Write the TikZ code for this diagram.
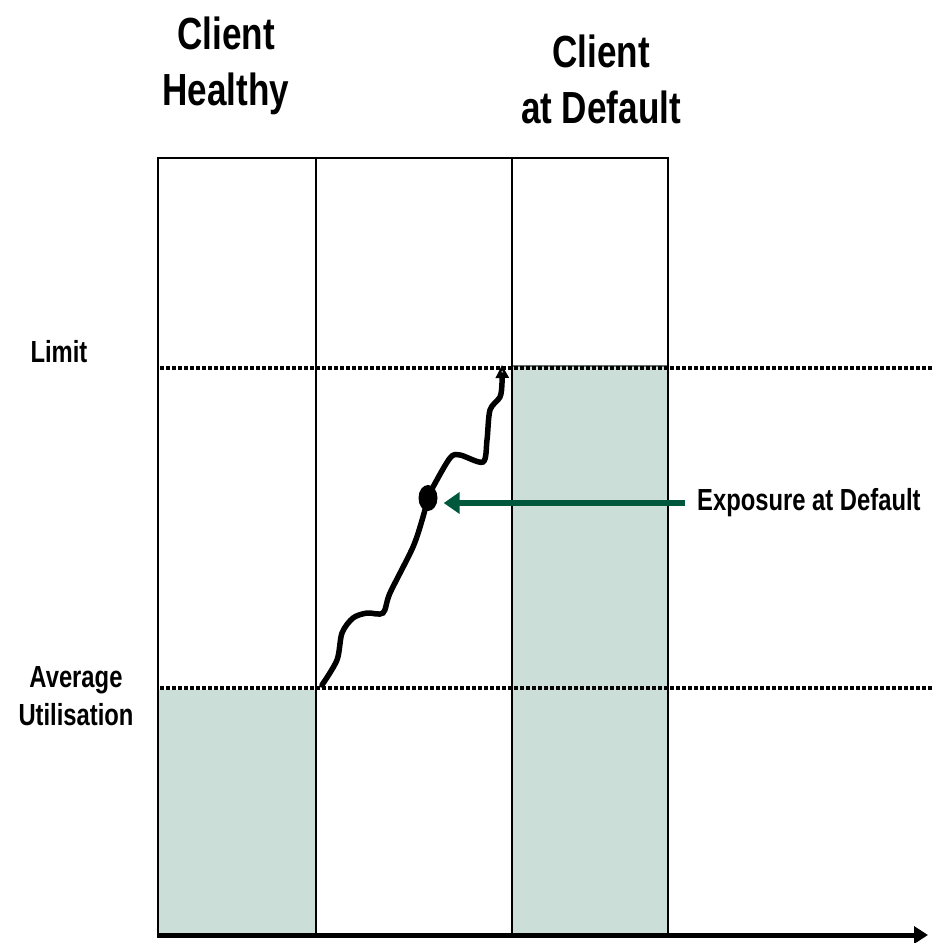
\documentclass[tikz,border=0pt]{standalone}
\usepackage{fontspec}
\setmainfont{Liberation Sans}[FakeStretch=0.78]
\usetikzlibrary{arrows.meta,shapes.geometric}
\definecolor{eadgreen}{RGB}{0,88,60}
\definecolor{eadfill}{RGB}{204,222,216}
\tikzset{
	headlabel/.style={align=center, font=\bfseries\fontsize{45}{56}\selectfont},
	levellabel/.style={align=center, font=\bfseries\fontsize{30.5}{38}\selectfont},
	limitline/.style={line width=4.5pt, dash pattern=on 4pt off 2pt},
	column/.style={line width=2.5pt},
}
\begin{document}
\begin{tikzpicture}[x=1pt,y=-1pt]
	\useasboundingbox (0,0) rectangle (932,943);
	\fill[eadfill] (158,690) rectangle (316,935);
	\draw[eadfill!50!black, fill=eadfill, line width=1.5pt] (512,366) rectangle (668,935);
	\draw[column] (158,935) -- (158,158) -- (668,158) -- (668,935);
	\draw[column] (316,158) -- (316,935);
	\draw[column] (512,158) -- (512,935);
	\draw[limitline] (160,368) -- (932,368);
	\draw[limitline] (160,688) -- (932,688);
	\draw[line width=5pt, -{Triangle[length=14pt,width=17pt]}] (157,935) -- (928,935);
	\node (CH)	at (226,66)	[headlabel]	{Client\\Healthy};
	\node (CD)	at (601,79)	[headlabel]	{Client\\at Default};
	\node (LIM)	at (59,352)	[levellabel]	{Limit};
	\node (AU)	at (76,696)	[levellabel]	{Average\\Utilisation};
	\node (EXP)	at (685,503)	[levellabel, anchor=west, inner xsep=12pt]	{Exposure at Default};
	\node (EAD)	at (428,498)	[ellipse, fill=black, minimum width=19pt, minimum height=26pt, inner sep=0pt]	{};
	\coordinate (S) at (322,685);
	\coordinate (T) at (502,365);
	\draw[line width=5.5pt, line cap=round, -{Triangle[open, length=13pt, width=13pt, line width=2.5pt]}] plot[smooth, tension=0.5] coordinates {(S) (337,660) (342,633) (353,618) (367,613) (383,613) (390,593) (413,547) (423,517) (EAD) (433,487) (450,458) (460,455) (483,462) (487,440) (490,410) (500,397) (502,383) (T)};
	\draw[eadgreen, line width=5.5pt, shorten >=6pt, -{Triangle[length=16pt, width=21pt]}] (EXP.west) -- (EAD.east |- EXP.west);
\end{tikzpicture}
\end{document}
